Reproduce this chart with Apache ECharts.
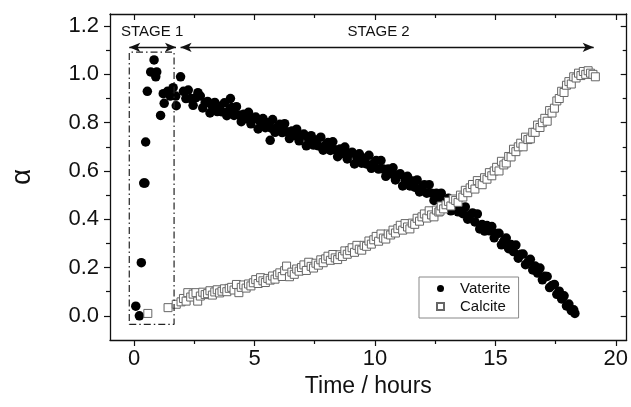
<!DOCTYPE html>
<html><head><meta charset="utf-8">
<script src="https://cdn.jsdelivr.net/npm/echarts@6/dist/echarts.min.js"></script>
<style>html,body{margin:0;padding:0;background:#fff}#c{width:631px;height:407px}</style>
</head><body><div id="c"></div>
<script>
// ---- data ----
const vateriteTime = [
  0.07,0.22,0.30,0.40,0.45,0.48,0.55,0.69,0.83,0.90,0.94,1.10,1.21,1.25,1.39,1.50,1.62,1.73,1.75,1.93,
  2.05,2.15,2.25,2.35,2.45,2.55,2.65,2.75,2.85,2.95,
  3.05,3.15,3.25,3.35,3.45,3.55,3.65,3.75,3.85,3.95,
  4.00,4.05,4.15,4.25,4.35,4.45,4.55,4.65,4.75,4.85,4.95,
  5.05,5.15,5.25,5.35,5.45,5.55,5.65,5.70,5.75,5.85,5.95,
  6.05,6.15,6.25,6.35,6.45,6.55,6.65,6.75,6.85,6.95,
  7.05,7.15,7.25,7.35,7.45,7.55,7.65,7.75,7.85,7.95,
  8.05,8.15,8.25,8.35,8.45,8.55,8.65,8.75,8.85,8.95,
  9.05,9.15,9.25,9.35,9.45,9.55,9.65,9.75,9.85,9.95,
  10.05,10.15,10.25,10.35,10.45,10.55,10.65,10.75,10.85,10.95,
  11.05,11.15,11.25,11.35,11.45,11.55,11.65,11.75,11.85,11.95,
  12.05,12.15,12.25,12.35,12.45,12.55,12.65,12.75,12.85,12.95,
  13.05,13.15,13.25,13.35,13.45,13.55,13.65,13.75,13.85,13.95,
  14.05,14.15,14.25,14.35,14.45,14.55,14.65,14.75,14.85,14.95,
  15.05,15.15,15.25,15.35,15.45,15.55,15.65,15.75,15.85,15.95,
  16.05,16.15,16.25,16.35,16.45,16.55,16.65,16.75,16.85,16.95,
  17.05,17.15,17.25,17.35,17.45,17.55,17.65,17.75,17.85,17.95,
  18.05,18.15,18.25,18.30
];
const vateriteAlpha = [
  0.04,0.00,0.22,0.55,0.55,0.72,0.93,1.01,1.06,0.99,1.01,0.83,0.92,0.88,0.93,0.91,0.945,0.91,0.87,0.99,
  0.93,0.90,0.935,0.90,0.872,0.903,0.924,0.91,0.861,0.882,
  0.888,0.84,0.867,0.884,0.846,0.868,0.845,0.882,0.829,0.851,
  0.90,0.863,0.83,0.866,0.832,0.804,0.835,0.817,0.843,0.795,0.816,
  0.823,0.774,0.801,0.817,0.779,0.80,0.727,0.777,0.813,0.76,0.781,
  0.793,0.759,0.796,0.762,0.734,0.765,0.747,0.773,0.725,0.746,
  0.753,0.704,0.73,0.746,0.707,0.728,0.704,0.74,0.686,0.707,
  0.718,0.685,0.721,0.688,0.659,0.691,0.672,0.699,0.65,0.672,
  0.678,0.629,0.655,0.671,0.632,0.653,0.629,0.665,0.611,0.632,
  0.643,0.608,0.643,0.608,0.578,0.608,0.588,0.613,0.563,0.583,
  0.588,0.538,0.563,0.578,0.538,0.558,0.533,0.563,0.513,0.533,
  0.543,0.508,0.543,0.508,0.478,0.508,0.488,0.508,0.463,0.483,
  0.487,0.435,0.459,0.472,0.431,0.449,0.423,0.451,0.40,0.418,
  0.426,0.389,0.422,0.36,0.378,0.351,0.374,0.352,0.37,0.323,
  0.341,0.342,0.294,0.31,0.322,0.278,0.295,0.266,0.293,0.239,
  0.255,0.256,0.212,0.223,0.234,0.19,0.206,0.177,0.198,0.149,
  0.164,0.163,0.117,0.126,0.13,0.089,0.102,0.07,0.083,0.041,
  0.049,0.022,0.025,0.01
];
const calciteTime = [
  0.57,1.41,1.75,1.95,2.05,2.16,2.23,2.35,2.45,2.57,2.64,2.75,2.85,2.95,
  3.05,3.15,3.25,3.35,3.45,3.55,3.65,3.75,3.85,3.95,
  4.05,4.15,4.25,4.35,4.45,4.55,4.65,4.75,4.85,4.95,
  5.05,5.15,5.25,5.35,5.45,5.55,5.65,5.75,5.85,5.95,
  6.05,6.15,6.25,6.33,6.45,6.55,6.65,6.75,6.85,6.95,
  7.05,7.15,7.25,7.35,7.45,7.55,7.65,7.75,7.85,7.95,
  8.05,8.15,8.25,8.35,8.45,8.55,8.65,8.75,8.85,8.95,
  9.05,9.15,9.25,9.35,9.45,9.55,9.65,9.75,9.85,9.95,
  10.05,10.15,10.25,10.35,10.45,10.55,10.65,10.75,10.85,10.95,
  11.05,11.15,11.25,11.35,11.45,11.55,11.65,11.75,11.85,11.95,
  12.05,12.15,12.25,12.35,12.45,12.55,12.65,12.70,12.75,12.85,12.95,
  13.05,13.15,13.25,13.35,13.45,13.55,13.65,13.75,13.85,13.95,
  14.05,14.15,14.25,14.35,14.45,14.55,14.65,14.75,14.85,14.95,
  15.05,15.15,15.25,15.35,15.45,15.55,15.65,15.75,15.85,15.95,
  16.05,16.15,16.25,16.35,16.45,16.55,16.65,16.75,16.85,16.95,
  17.05,17.15,17.25,17.35,17.45,17.55,17.65,17.75,17.85,17.95,
  18.05,18.15,18.25,18.35,18.45,18.55,18.65,18.75,18.85,18.95,19.05,19.15
];
const calciteAlpha = [
  0.01,0.034,0.048,0.058,0.072,0.061,0.096,0.078,0.09,0.096,0.061,0.082,0.098,0.088,
  0.092,0.104,0.086,0.099,0.108,0.095,0.102,0.112,0.10,0.114,
  0.118,0.107,0.13,0.096,0.118,0.128,0.115,0.132,0.124,0.137,
  0.15,0.134,0.158,0.145,0.138,0.155,0.148,0.165,0.152,0.17,
  0.178,0.163,0.187,0.206,0.162,0.181,0.172,0.194,0.185,0.20,
  0.211,0.188,0.222,0.205,0.198,0.218,0.21,0.232,0.22,0.236,
  0.247,0.23,0.254,0.24,0.233,0.253,0.246,0.269,0.255,0.27,
  0.282,0.263,0.292,0.276,0.272,0.292,0.288,0.31,0.297,0.315,
  0.329,0.309,0.339,0.322,0.318,0.339,0.335,0.355,0.343,0.361,
  0.375,0.355,0.382,0.368,0.36,0.384,0.379,0.404,0.392,0.41,
  0.422,0.405,0.435,0.418,0.41,0.438,0.43,0.434,0.455,0.443,0.46,
  0.474,0.455,0.484,0.478,0.47,0.50,0.492,0.52,0.51,0.53,
  0.544,0.525,0.56,0.548,0.543,0.572,0.566,0.593,0.58,0.60,
  0.615,0.60,0.64,0.625,0.633,0.66,0.658,0.69,0.68,0.70,
  0.715,0.70,0.74,0.73,0.733,0.76,0.76,0.79,0.78,0.80,
  0.818,0.806,0.85,0.84,0.86,0.89,0.90,0.93,0.925,0.955,
  0.97,0.96,0.99,0.985,1.005,0.995,1.012,1.00,1.015,1.005,1.00,0.99
];
const xMajorTicks = [0, 5, 10, 15, 20];
const xMinorTicks = [2.5, 7.5, 12.5, 17.5];
const yMajorTicks = [0, 0.2, 0.4, 0.6, 0.8, 1.0, 1.2];
const yMinorTicks = [0.1, 0.3, 0.5, 0.7, 0.9, 1.1];
const seriesNames = ['Vaterite', 'Calcite'];
const stageLabels = ['STAGE 1', 'STAGE 2'];
// annotation geometry in data units
const stage1BoxT = [-0.2, 1.66];
const stage1BoxA = [-0.035, 1.092];
const stageArrowA = 1.112;
const stage1ArrowT = [-0.2, 1.74];
const stage2ArrowT = [1.93, 19.08];
const stageLabelT = [0.75, 10.15];
const stageLabelA = 1.175;

const chart = echarts.init(document.getElementById('c'));
const FONT = '"Liberation Sans", Arial, sans-serif';
const X_RANGE = {min: -1, max: 20.45};
const Y_RANGE = {min: -0.1, max: 1.25};
const black = '#111';

function xAx(pos, ticks, len, inside, showLine, showLabels, extra) {
  return Object.assign({
    type: 'value', position: pos, min: X_RANGE.min, max: X_RANGE.max,
    splitLine: {show: false},
    axisLine: {show: showLine, onZero: false, lineStyle: {color: black, width: 1.3}},
    axisTick: {show: true, inside: inside, length: len, customValues: ticks, lineStyle: {color: black, width: 1.2}},
    axisLabel: {show: showLabels, customValues: ticks, color: black, fontFamily: FONT, fontSize: 22, margin: 8}
  }, extra || {});
}
function yAx(pos, ticks, len, inside, showLine, showLabels, extra) {
  return Object.assign({
    type: 'value', position: pos, min: Y_RANGE.min, max: Y_RANGE.max,
    splitLine: {show: false},
    axisLine: {show: showLine, onZero: false, lineStyle: {color: black, width: 1.3}},
    axisTick: {show: true, inside: inside, length: len, customValues: ticks, lineStyle: {color: black, width: 1.2}},
    axisLabel: {show: showLabels, customValues: ticks, color: black, fontFamily: FONT, fontSize: 22, margin: 11,
      formatter: v => v.toFixed(1)}
  }, extra || {});
}

const option = {
  animation: false,
  backgroundColor: '#fff',
  grid: {left: 106, top: 14, right: 2, bottom: 67, containLabel: false},
  xAxis: [
    xAx('bottom', xMajorTicks, 6, false, true, true, {
      name: 'Time / hours', nameLocation: 'middle', nameGap: 28,
      nameTextStyle: {fontFamily: FONT, fontSize: 23, color: black}
    }),
    xAx('bottom', xMinorTicks, 4, false, false, false),
    xAx('top', xMajorTicks, 6, true, true, false),
    xAx('top', xMinorTicks, 4, true, false, false)
  ],
  yAxis: [
    yAx('left', yMajorTicks, 6, false, true, true, {
      name: 'α', nameLocation: 'middle', nameGap: 74, nameRotate: 90,
      nameTextStyle: {fontFamily: FONT, fontSize: 28, color: black}
    }),
    yAx('left', yMinorTicks, 4, false, false, false),
    yAx('right', yMajorTicks, 6, true, true, false),
    yAx('right', yMinorTicks, 4, true, false, false)
  ],
  legend: {
    orient: 'vertical', left: 419, top: 277,
    padding: [4, 8, 4, 17], itemGap: 3,
    itemWidth: 7, itemHeight: 7,
    borderColor: '#888', borderWidth: 1,
    textStyle: {fontFamily: FONT, fontSize: 15, color: black, padding: [0, 0, 0, 11]},
    data: seriesNames
  },
  series: [
    {
      name: seriesNames[0], type: 'scatter', symbol: 'circle', symbolSize: 9.5,
      xAxisIndex: 0, yAxisIndex: 0,
      itemStyle: {color: '#000', opacity: 1},
      data: vateriteTime.map((t, i) => [t, vateriteAlpha[i]]),
      z: 2
    },
    {
      name: seriesNames[1], type: 'scatter', symbol: 'rect', symbolSize: 8,
      xAxisIndex: 0, yAxisIndex: 0,
      itemStyle: {color: '#fff', borderColor: '#666', borderWidth: 1, opacity: 1},
      data: calciteTime.map((t, i) => [t, calciteAlpha[i]]),
      z: 3
    },
    {
      name: 'stage1box', type: 'line', xAxisIndex: 0, yAxisIndex: 0,
      symbol: 'none', silent: true,
      lineStyle: {color: '#222', width: 1.2, type: [7, 3, 1.5, 3]},
      data: [
        [stage1BoxT[0], stage1BoxA[0]], [stage1BoxT[1], stage1BoxA[0]],
        [stage1BoxT[1], stage1BoxA[1]], [stage1BoxT[0], stage1BoxA[1]],
        [stage1BoxT[0], stage1BoxA[0]]
      ],
      markLine: {
        silent: true, symbol: ['arrow', 'arrow'], symbolSize: [7, 11],
        label: {show: false},
        lineStyle: {color: '#111', width: 1.3, type: 'solid'},
        data: [
          [{coord: [stage1ArrowT[0], stageArrowA]}, {coord: [stage1ArrowT[1], stageArrowA]}],
          [{coord: [stage2ArrowT[0], stageArrowA]}, {coord: [stage2ArrowT[1], stageArrowA]}]
        ]
      },
      z: 4
    }
  ]
};
chart.setOption(option);

// stage labels, anchored in data coordinates
const p1 = chart.convertToPixel({xAxisIndex: 0, yAxisIndex: 0}, [stageLabelT[0], stageLabelA]);
const p2 = chart.convertToPixel({xAxisIndex: 0, yAxisIndex: 0}, [stageLabelT[1], stageLabelA]);
chart.setOption({
  graphic: [
    {type: 'text', x: p1[0], y: p1[1], style: {text: stageLabels[0], fontFamily: FONT, fontSize: 15, fill: black, align: 'center', verticalAlign: 'middle'}},
    {type: 'text', x: p2[0], y: p2[1], style: {text: stageLabels[1], fontFamily: FONT, fontSize: 15, fill: black, align: 'center', verticalAlign: 'middle'}}
  ]
});
</script>
</body></html>
